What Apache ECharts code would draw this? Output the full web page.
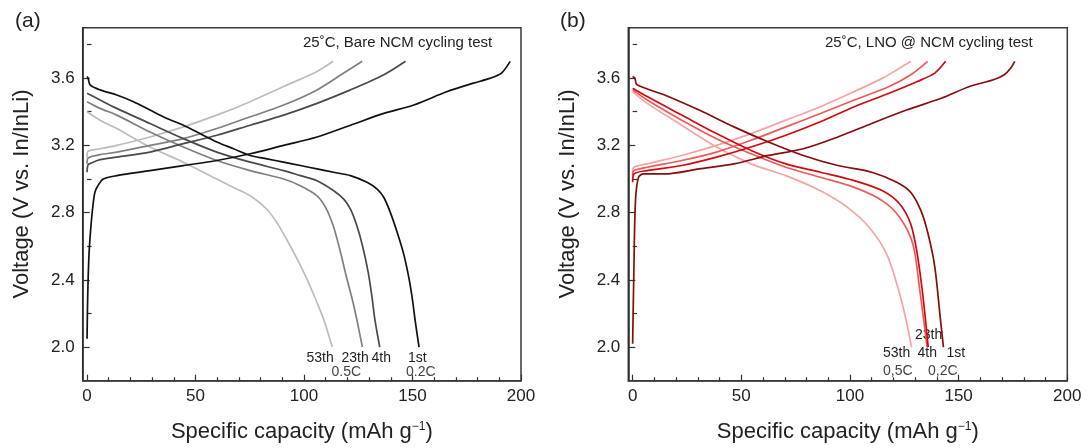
<!DOCTYPE html>
<html>
<head>
<meta charset="utf-8">
<script src="https://cdn.jsdelivr.net/npm/echarts@6/dist/echarts.min.js"></script>
<style>html,body{margin:0;padding:0;background:#fff}#c{width:1086px;height:448px}</style>
</head>
<body>
<div id="c"></div>
<script>
// ---------- data: [capacity (mAh/g), voltage (V)] ----------
// (a) Bare NCM
const bare1stCharge = [[0,2.05],[0.3,2.30],[0.9,2.55],[1.8,2.72],[2.7,2.84],[3.6,2.92],[5,2.96],[7.5,3.0],[13.7,3.02],[29,3.05],[44.4,3.08],[59.8,3.11],[75.2,3.15],[90.6,3.20],[106,3.25],[121.4,3.32],[136.8,3.39],[150.6,3.44],[166,3.52],[178,3.57],[186,3.60],[191,3.63],[195,3.70]];
const bare1stDischarge = [[0,3.61],[0.5,3.60],[1.4,3.56],[6,3.53],[13.7,3.50],[21.4,3.46],[29,3.41],[36.8,3.36],[44.4,3.32],[52,3.27],[59.8,3.22],[67.5,3.18],[75.2,3.14],[82.9,3.12],[90.6,3.10],[98.3,3.08],[106,3.06],[113.7,3.04],[121.4,3.02],[129,2.98],[133.7,2.94],[136.8,2.89],[139.8,2.80],[143,2.68],[146,2.55],[148.5,2.40],[150,2.28],[151.2,2.16],[153,2.0]];
const bare4thCharge = [[0,3.04],[0.5,3.085],[2,3.095],[6,3.115],[13.7,3.13],[29,3.16],[44.4,3.21],[59.8,3.26],[75.2,3.32],[90.6,3.38],[106,3.45],[121.4,3.53],[136.8,3.62],[146.8,3.70]];
const bare4thDischarge = [[0,3.51],[6,3.47],[13.7,3.42],[29,3.33],[44.4,3.24],[59.8,3.16],[75.2,3.10],[90.6,3.05],[98.3,3.02],[106,2.99],[113.7,2.93],[118.3,2.88],[121.4,2.82],[124.4,2.72],[127,2.60],[129.5,2.45],[131.3,2.30],[132.7,2.16],[134.9,2.0]];
const bare23rdCharge = [[0,3.09],[0.5,3.125],[6,3.145],[13.7,3.16],[29,3.20],[44.4,3.24],[59.8,3.30],[75.2,3.37],[90.6,3.44],[106,3.53],[118.3,3.63],[126.8,3.70]];
const bare23rdDischarge = [[0,3.46],[6,3.42],[13.7,3.38],[29,3.28],[44.4,3.19],[59.8,3.11],[75.2,3.05],[90.6,3.00],[98.3,2.96],[106,2.90],[110,2.83],[113.5,2.72],[116.5,2.58],[119.5,2.42],[122.5,2.27],[124.4,2.16],[126.9,2.0]];
const bare53rdCharge = [[0,3.13],[0.5,3.165],[6,3.18],[13.7,3.20],[29,3.25],[44.4,3.31],[59.8,3.38],[75.2,3.46],[90.6,3.55],[106,3.64],[113.4,3.70]];
const bare53rdDischarge = [[0,3.40],[6,3.35],[13.7,3.30],[29,3.19],[44.4,3.10],[59.8,3.00],[67.5,2.95],[75.2,2.90],[82.9,2.82],[88,2.73],[92,2.64],[97,2.52],[101.5,2.40],[105.5,2.28],[109.2,2.16],[113,2.0]];
// (b) LNO @ NCM
const lno1stCharge = [[0,2.02],[0.6,2.48],[1.3,2.87],[2.7,3.01],[5,3.03],[14.7,3.03],[30.6,3.06],[46.6,3.09],[62.5,3.14],[78.5,3.18],[94.4,3.25],[110,3.33],[126,3.41],[142,3.48],[155,3.55],[166,3.59],[171,3.62],[174,3.66],[175.8,3.70]];
const lno1stDischarge = [[0,3.61],[1,3.60],[2,3.56],[14.7,3.50],[30.6,3.41],[46.6,3.31],[62.5,3.22],[78.5,3.14],[94.4,3.08],[110,3.04],[121.5,2.98],[128,2.92],[132.7,2.81],[136,2.67],[139,2.48],[141.5,2.18],[143,2.0]];
const lno4thCharge = [[0,2.98],[0.6,3.03],[6.7,3.05],[22.6,3.08],[38.6,3.13],[54.5,3.19],[70.5,3.26],[86.4,3.34],[102,3.43],[118,3.51],[131,3.58],[139,3.63],[144,3.70]];
const lno4thDischarge = [[0,3.54],[6.7,3.49],[22.6,3.38],[38.6,3.27],[54.5,3.17],[70.5,3.09],[86.4,3.04],[102,2.99],[115,2.93],[123,2.85],[128,2.73],[131,2.55],[133.5,2.31],[136,2.0]];
const lno23rdCharge = [[0,3.02],[0.6,3.05],[6.7,3.07],[22.6,3.11],[38.6,3.16],[54.5,3.23],[70.5,3.31],[86.4,3.39],[102,3.47],[118,3.55],[128,3.62],[135.7,3.70]];
const lno23rdDischarge = [[0,3.53],[6.7,3.47],[22.6,3.35],[38.6,3.24],[54.5,3.15],[70.5,3.07],[86.4,3.01],[102,2.95],[115,2.87],[123,2.77],[129,2.61],[132,2.35],[135.5,2.0]];
const lno53rdCharge = [[0,3.04],[0.6,3.07],[6.7,3.09],[22.6,3.14],[38.6,3.20],[54.5,3.27],[70.5,3.35],[86.4,3.43],[102,3.52],[115,3.60],[123,3.66],[128,3.70]];
const lno53rdDischarge = [[0,3.52],[6.7,3.45],[22.6,3.32],[38.6,3.19],[54.5,3.09],[70.5,3.02],[86.4,2.93],[99,2.83],[109,2.71],[117,2.55],[123,2.31],[126,2.15],[128.3,2.0]];

// ---------- ticks / texts ----------
const xMajorTicks = [0, 50, 100, 150, 200];
const xMinorTicks = [10,20,30,40,60,70,80,90,110,120,130,140,160,170,180,190];
const yMajorTicks = [2.0, 2.4, 2.8, 3.2, 3.6];
const yMinorTicks = [2.2, 2.6, 3.0, 3.4, 3.8];
const panelLabels = ['(a)', '(b)'];
const panelNotes = ['25˚C, Bare NCM cycling test', '25˚C, LNO @ NCM cycling test'];
const xTitle = 'Specific capacity (mAh g{sup|−1})';
const yTitle = 'Voltage (V vs. In/InLi)';

const FONT = '"Liberation Sans", Arial, sans-serif';
const TXT = '#222';
const greys = ['#111111', '#4a4a4a', '#808080', '#bdbdbd'];
const reds = ['#8a0c0c', '#d00a10', '#ee5a5a', '#f8a3a3'];

const grids = [
  {left: 82.7, top: 27.7, width: 438.3, height: 353},
  {left: 628.3, top: 27.7, width: 439, height: 353}
];

const xAxes = [], yAxes = [];
grids.forEach((g, i) => {
  xAxes.push({
    gridIndex: i, type: 'value', min: -2, max: 200, position: 'bottom',
    axisLine: {show: true, onZero: false, lineStyle: {color: '#3a3a3a', width: 1.5}},
    axisTick: {show: true, inside: true, length: 6, customValues: xMajorTicks, lineStyle: {color: '#333', width: 1.2}},
    axisLabel: {customValues: xMajorTicks, fontSize: 17, color: TXT, fontFamily: FONT, margin: 7},
    splitLine: {show: false},
    name: xTitle, nameLocation: 'middle', nameGap: 40,
    nameTextStyle: {fontSize: 22, color: TXT, fontFamily: FONT,
      rich: {sup: {fontSize: 12, color: TXT, fontFamily: FONT, verticalAlign: 'top'}}}
  });
  xAxes.push({
    gridIndex: i, type: 'value', min: -2, max: 200, position: 'bottom',
    axisLine: {show: false},
    axisTick: {show: true, inside: true, length: 3.5, customValues: xMinorTicks, lineStyle: {color: '#333', width: 1.2}},
    axisLabel: {show: false}, splitLine: {show: false}
  });
  yAxes.push({
    gridIndex: i, type: 'value', min: 1.8, max: 3.9, position: 'left',
    axisLine: {show: true, onZero: false, lineStyle: {color: '#2a2a2a', width: 1.5}},
    axisTick: {show: true, inside: true, length: 7, customValues: yMajorTicks, lineStyle: {color: '#333', width: 1.2}},
    axisLabel: {customValues: yMajorTicks, fontSize: 17, color: TXT, fontFamily: FONT, margin: 8,
      formatter: v => v.toFixed(1)},
    splitLine: {show: false}
  });
  yAxes.push({
    gridIndex: i, type: 'value', min: 1.8, max: 3.9, position: 'left',
    axisLine: {show: false},
    axisTick: {show: true, inside: true, length: 4.5, customValues: yMinorTicks, lineStyle: {color: '#333', width: 1.2}},
    axisLabel: {show: false}, splitLine: {show: false}
  });
});

function line(data, color, panel) {
  return {
    type: 'line', data, xAxisIndex: panel * 2, yAxisIndex: panel * 2,
    symbol: 'none', smooth: 0.3,
    lineStyle: {color, width: 1.7}, silent: true, z: 3
  };
}

const series = [
  line(bare53rdCharge, greys[3], 0), line(bare53rdDischarge, greys[3], 0),
  line(bare23rdCharge, greys[2], 0), line(bare23rdDischarge, greys[2], 0),
  line(bare4thCharge, greys[1], 0), line(bare4thDischarge, greys[1], 0),
  line(bare1stCharge, greys[0], 0), line(bare1stDischarge, greys[0], 0),
  line(lno53rdCharge, reds[3], 1), line(lno53rdDischarge, reds[3], 1),
  line(lno23rdCharge, reds[2], 1), line(lno23rdDischarge, reds[2], 1),
  line(lno4thCharge, reds[1], 1), line(lno4thDischarge, reds[1], 1),
  line(lno1stCharge, reds[0], 1), line(lno1stDischarge, reds[0], 1)
];

function txt(text, x, y, size, fill) {
  return {
    type: 'text', x, y, silent: true,
    style: {text, fill: fill || TXT, fontSize: size, fontFamily: FONT, align: 'left', verticalAlign: 'middle'}
  };
}

const graphic = [
  txt(panelLabels[0], 15, 21, 21),
  txt(panelLabels[1], 560, 21, 21),
  txt(panelNotes[0], 303, 43, 15),
  txt(panelNotes[1], 825, 43, 15),
  {type: 'text', x: 22, y: 194, rotation: Math.PI / 2, silent: true,
   style: {text: yTitle, fill: TXT, fontSize: 22, fontFamily: FONT, align: 'center', verticalAlign: 'middle'}},
  {type: 'text', x: 567.5, y: 194, rotation: Math.PI / 2, silent: true,
   style: {text: yTitle, fill: TXT, fontSize: 22, fontFamily: FONT, align: 'center', verticalAlign: 'middle'}},
  txt('53th', 306.5, 358, 14), txt('23th', 341.5, 358, 14), txt('4th', 371.5, 358, 14), txt('1st', 408, 358, 14),
  txt('0.5C', 331.5, 372.5, 14, '#444'), txt('0.2C', 406, 372.5, 14, '#444'),
  txt('23th', 915, 335, 14), txt('53th', 883, 353, 14), txt('4th', 917.5, 353, 14), txt('1st', 946.5, 353, 14),
  txt('0,5C', 883, 371.5, 14, '#444'), txt('0,2C', 928, 371.5, 14, '#444')
];

const chart = echarts.init(document.getElementById('c'), null, {renderer: 'canvas'});
chart.setOption({
  animation: false,
  backgroundColor: '#fff',
  grid: grids.map(g => Object.assign({show: true, borderColor: '#3a3a3a', borderWidth: 1.5, containLabel: false}, g)),
  xAxis: xAxes,
  yAxis: yAxes,
  series,
  graphic
});
</script>
</body>
</html>
